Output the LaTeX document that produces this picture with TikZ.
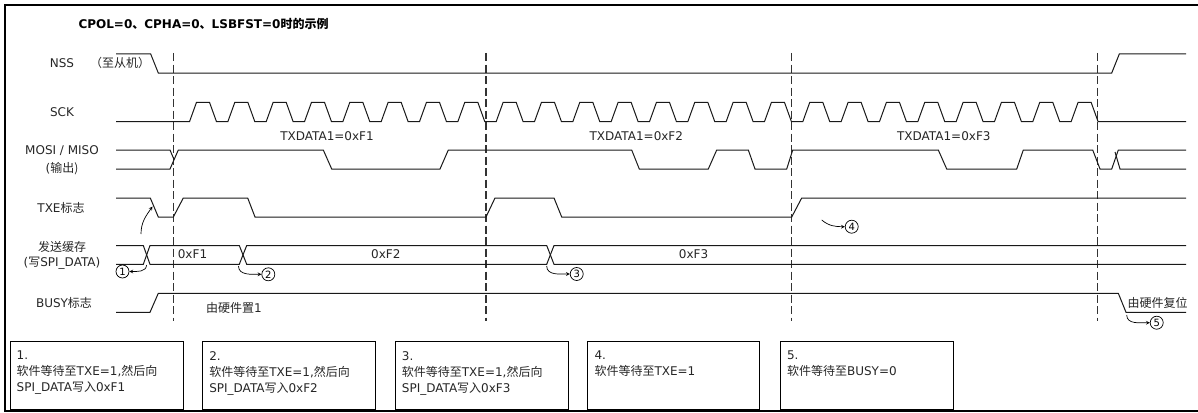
\documentclass[tikz,border=0pt]{standalone}
\usepackage{fontspec}
\setmainfont{DejaVu Sans}
\newfontfamily\cjk{Noto Sans CJK SC}
\usetikzlibrary{positioning}

\tikzset{
  sig/.style={line width=1pt, black!90},
  guide/.style={dash pattern=on 8pt off 3.5pt, line width=1.3pt, black!80},
  lbl/.style={font=\fontsize{12}{16}\selectfont, text=black!85, inner sep=0pt},
  num/.style={circle, draw, line width=0.7pt, minimum size=13pt, inner sep=0pt, font=\fontsize{10}{12}\selectfont},
  notebox/.style={draw, line width=0.9pt},
}

\begin{document}
\begin{tikzpicture}[x=1pt, y=-1pt, >=stealth]
  \useasboundingbox (0,0) rectangle (1198,412);
  % 外框
  \draw[line width=2pt] (4.5,5) rectangle (1215,410.5);
  \node[anchor=west, font=\bfseries\fontsize{12}{14}\selectfont] (title) at (75,24) {CPOL=0{\cjk 、}CPHA=0{\cjk 、}LSBFST=0{\cjk 时的示例}};

  % 信号名
  \node[lbl] (nss) at (62,63) {NSS};
  \node[lbl] (nssdir) at (120,63) {\cjk （至从机）};
  \node[lbl] (sck) at (62,112) {SCK};
  \node[lbl] (mosi) at (62,150.5) {MOSI / MISO};
  \node[lbl, below=6pt of mosi] (mosiout) {(\cjk 输出)};
  \node[lbl] (txe) at (61,207.5) {TXE{\cjk 标志}};
  \node[lbl] (buf) at (62,246.5) {\cjk 发送缓存};
  \node[lbl, below=5pt of buf] (bufwr) {(\cjk 写\normalfont SPI\_DATA)};
  \node[lbl] (busy) at (64,303) {BUSY{\cjk 标志}};

  % 虚线
  \draw[guide] (173.3,53) -- (173.3,321);
  \draw[guide] (486,53) -- (486,321);
  \draw[guide] (791.7,53) -- (791.7,321);
  \draw[guide] (1097.5,53) -- (1097.5,321);

  % NSS
  \draw[sig] (116,54) -- (150.7,54) -- (158.3,73) -- (1111.7,73) -- (1119.3,54) -- (1186,54);

  % SCK
  \draw[sig] (116,121.7) foreach \k in {0,...,23} { -- ({189.5+38.33*\k},121.7) -- ++(7,-19.4) -- ++(13,0) -- ++(7,19.4) } -- (1186,121.7);
  \node[lbl] (tx1) at (327,136.5) {TXDATA1=0xF1};
  \node[lbl] (tx2) at (636.3,136.5) {TXDATA1=0xF2};
  \node[lbl] (tx3) at (943.8,136.5) {TXDATA1=0xF3};

  % MOSI / MISO
  \draw[sig] (116,150) -- (170,150) -- (174,159.5);
  \draw[sig] (116,169) -- (170,169) -- (178.3,150) -- (323.3,150) -- (331.7,169) -- (440,169) -- (448.3,150)
    -- (631.7,150) -- (639.3,169) -- (708.3,169) -- (716.7,150) -- (748.3,150) -- (755,169) -- (786.7,169)
    -- (792.7,150) -- (938.3,150) -- (946.7,169) -- (1016.7,169) -- (1023.3,150) -- (1092.7,150)
    -- (1100,169) -- (1111.7,169) -- (1118.3,150) -- (1186,150);
  \draw[sig] (1115,152) -- (1120,169) -- (1186,169);

  % TXE
  \draw[sig] (116,198) -- (150.3,198) -- (158.3,217) -- (173.3,217) -- (183.3,198) -- (247.7,198) -- (255,217)
    -- (486,217) -- (495,198) -- (554,198) -- (561.7,217) -- (791.7,217) -- (801.7,198) -- (1186,198);

  % 发送缓存
  \draw[sig] (116,245.5) -- (143.3,245.5) -- (150,264.3) -- (239.3,264.3) -- (246.7,245.5) -- (546.7,245.5) -- (554,264.3) -- (1186,264.3);
  \draw[sig] (116,264.3) -- (143.3,264.3) -- (150,245.5) -- (239.3,245.5) -- (246.7,264.3) -- (546.7,264.3) -- (554,245.5) -- (1186,245.5);
  \node[lbl] (f1) at (192.5,254.5) {0xF1};
  \node[lbl] (f2) at (385.8,254.5) {0xF2};
  \node[lbl] (f3) at (693.5,254.5) {0xF3};

  % BUSY
  \draw[sig] (116,312.3) -- (150,312.3) -- (158.3,293.3) -- (1118.3,293.3) -- (1126,312.3) -- (1186,312.3);
  \node[lbl] (set1) at (234,308) {\cjk 由硬件置\normalfont 1};
  \node[lbl] (reset) at (1157.5,303) {\cjk 由硬件复位};

  % 编号
  \node[num] (c1) at (122.5,271.5) {1};
  \node[num] (c2) at (268.3,274.3) {2};
  \node[num] (c3) at (576.7,274) {3};
  \node[num] (c4) at (851.7,226.7) {4};
  \node[num] (c5) at (1156.7,322.7) {5};
  \coordinate (s1) at (146.5,265);
  \coordinate (s2) at (238.5,266);
  \coordinate (s3) at (546.7,266);
  \coordinate (s4) at (821.7,220);
  \coordinate (s5) at (1126.7,315);
  \coordinate (st) at (141,234);
  \coordinate (et) at (152.5,206.5);
  \draw[->, line width=0.7pt] (s1) to[out=-90, in=0] (c1);
  \draw[->, line width=0.7pt] (s2) to[out=-90, in=180] (c2);
  \draw[->, line width=0.7pt] (s3) to[out=-90, in=180] (c3);
  \draw[->, line width=0.7pt] (s4) to[out=-40, in=180] (c4);
  \draw[->, line width=0.7pt] (s5) to[out=-90, in=180] (c5);
  \draw[->, line width=0.7pt] (st) to[out=90, in=-125] (et);

  % 说明框
  \draw[notebox] (10,341.7) rectangle (183.3,409);
  \draw[notebox] (202.6,341.7) rectangle (375.9,409);
  \draw[notebox] (395.2,341.7) rectangle (568.5,409);
  \draw[notebox] (587.8,341.7) rectangle (759.3,409);
  \draw[notebox] (780.4,341.7) rectangle (953.3,409);
  \node[lbl, anchor=north west, align=left] (note1) at (16.5,351) {1.\\{\cjk 软件等待至}TXE=1,{\cjk 然后向}\\SPI\_DATA{\cjk 写入}0xF1};
  \node[lbl, anchor=north west, align=left] (note2) at (209.1,351) {2.\\{\cjk 软件等待至}TXE=1,{\cjk 然后向}\\SPI\_DATA{\cjk 写入}0xF2};
  \node[lbl, anchor=north west, align=left] (note3) at (401.7,351) {3.\\{\cjk 软件等待至}TXE=1,{\cjk 然后向}\\SPI\_DATA{\cjk 写入}0xF3};
  \node[lbl, anchor=north west, align=left] (note4) at (594.3,351) {4.\\{\cjk 软件等待至}TXE=1};
  \node[lbl, anchor=north west, align=left] (note5) at (786.9,351) {5.\\{\cjk 软件等待至}BUSY=0};
\end{tikzpicture}
\end{document}
